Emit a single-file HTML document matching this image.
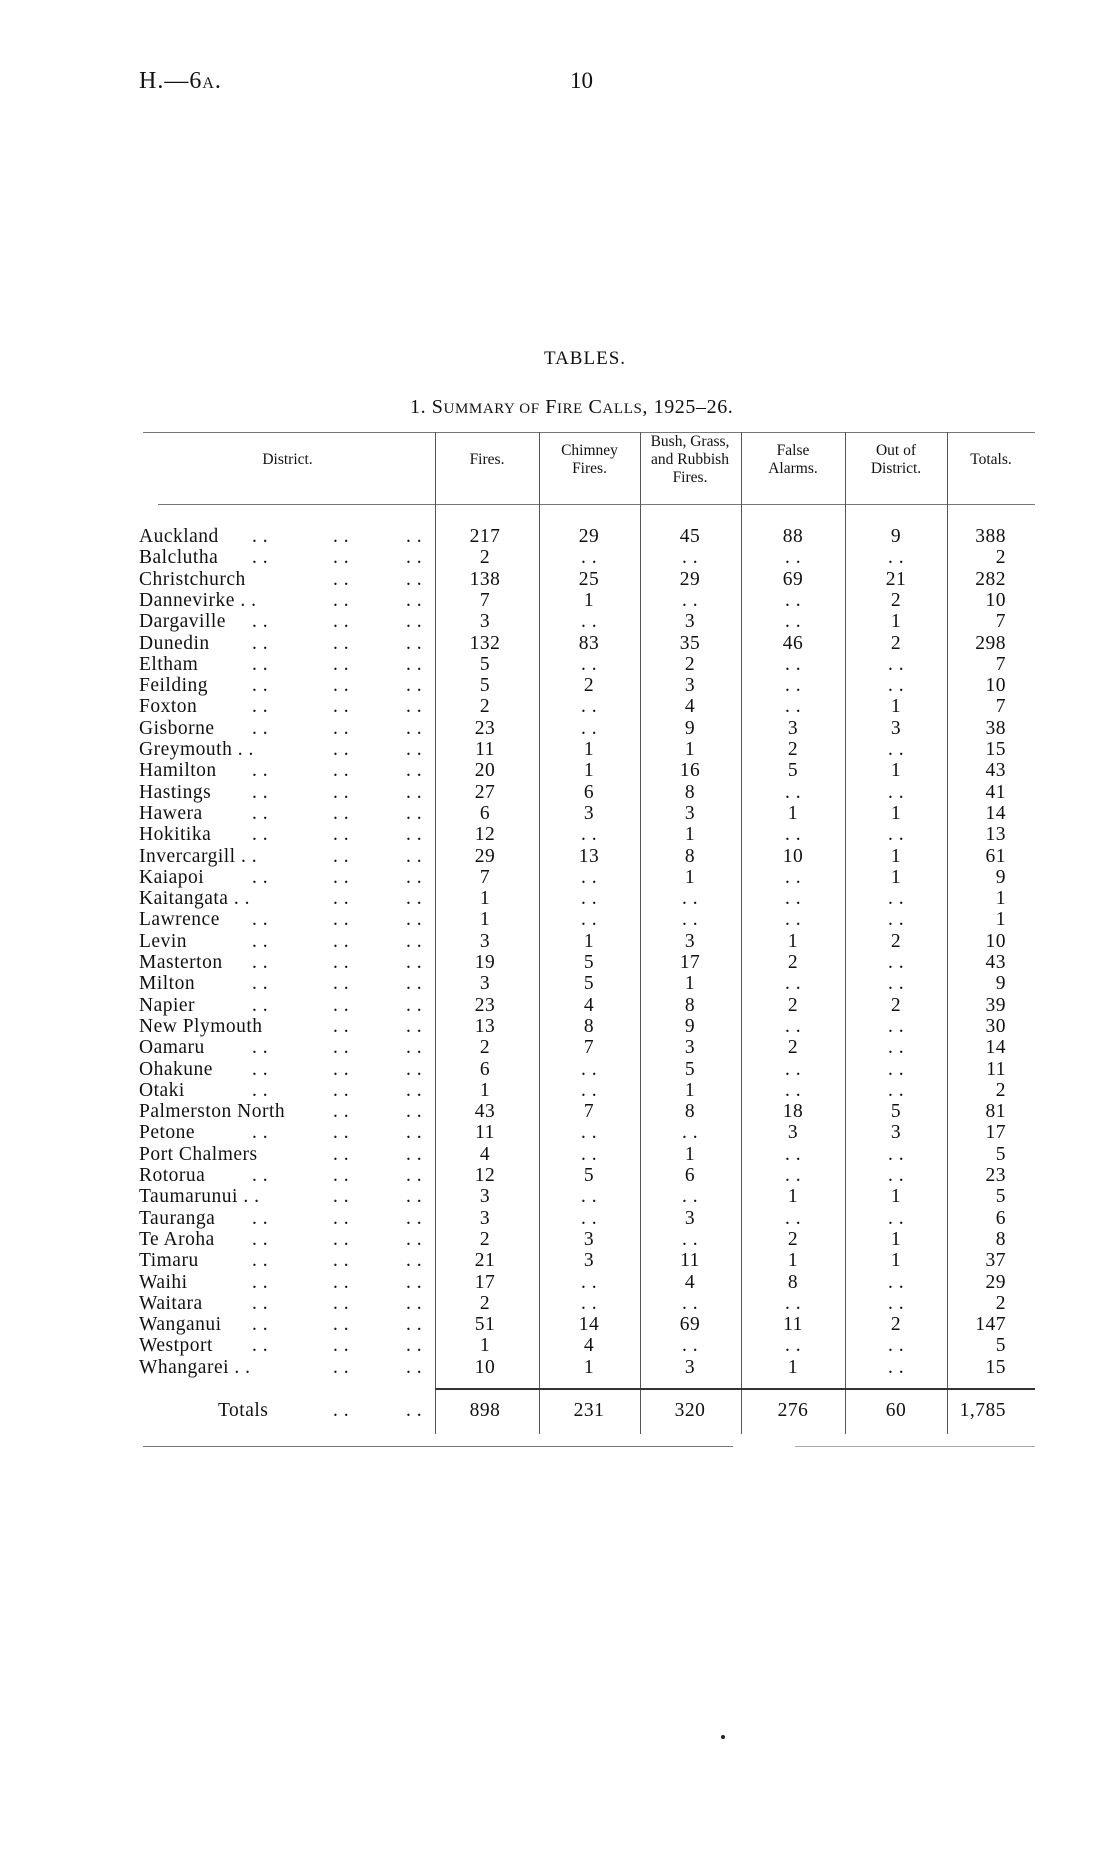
<!DOCTYPE html>
<html><head><meta charset="utf-8"><style>
body{margin:0;background:#fff;}
#p{position:relative;width:1114px;height:1871px;overflow:hidden;font-family:"Liberation Serif",serif;color:#111;}
.a{position:absolute;white-space:nowrap;}
.r{position:absolute;left:0;width:1114px;height:21px;font-size:19.5px;line-height:21px;letter-spacing:0.5px;}
.r span{position:absolute;top:0;}
.n{left:139px}
.d1{left:252px}.d2{left:333px}.d3{left:406px}
.c1,.c2,.c3,.c4,.c5{width:100px;text-align:center;}
.c1{left:435px}.c2{left:539px}.c3{left:640px}.c4{left:743px}.c5{left:846px}
.c6{left:906px;width:100px;text-align:right;}
.v{position:absolute;width:1px;background:#555;}
.h{position:absolute;height:1px;background:#777;}
.hd{position:absolute;font-size:15.5px;line-height:18px;text-align:center;}
</style></head><body><div id="p">
<div class="a" style="left:139px;top:68px;font-size:24px;letter-spacing:1px;">H.—6<span style="font-size:16px">A</span>.</div>
<div class="a" style="left:570px;top:68px;font-size:23px;">10</div>
<div class="a" style="left:544px;top:348px;font-size:19px;letter-spacing:1px;">TABLES.</div>
<div class="a" style="left:410px;top:396px;font-size:20px;letter-spacing:0.6px;">1. S<span style="font-size:15px">UMMARY OF</span> F<span style="font-size:15px">IRE</span> C<span style="font-size:15px">ALLS</span>, 1925–26.</div>

<div class="h" style="left:143px;top:432px;width:892px;"></div>
<div class="h" style="left:158px;top:504px;width:877px;"></div>
<div class="v" style="left:435px;top:432px;height:1002px;"></div>
<div class="v" style="left:539px;top:432px;height:1002px;"></div>
<div class="v" style="left:640px;top:432px;height:1002px;"></div>
<div class="v" style="left:741px;top:432px;height:1002px;"></div>
<div class="v" style="left:845px;top:432px;height:1002px;"></div>
<div class="v" style="left:947px;top:432px;height:1002px;"></div>
<div class="h" style="left:435px;top:1388px;width:600px;height:2px;background:#333"></div>
<div class="h" style="left:143px;top:1446px;width:590px;"></div>
<div class="h" style="left:795px;top:1446px;width:240px;background:#aaa"></div>

<div class="hd" style="left:140px;top:451px;width:295px;">District.</div>
<div class="hd" style="left:435px;top:451px;width:104px;">Fires.</div>
<div class="hd" style="left:539px;top:442px;width:101px;">Chimney<br>Fires.</div>
<div class="hd" style="left:632px;top:433px;width:116px;">Bush, Grass,<br>and Rubbish<br>Fires.</div>
<div class="hd" style="left:741px;top:442px;width:104px;">False<br>Alarms.</div>
<div class="hd" style="left:845px;top:442px;width:102px;">Out of<br>District.</div>
<div class="hd" style="left:947px;top:451px;width:88px;">Totals.</div>

<div class="r" style="top:526px"><span class="n">Auckland</span><span class="d1">. .</span><span class="d2">. .</span><span class="d3">. .</span><span class="c1">217</span><span class="c2">29</span><span class="c3">45</span><span class="c4">88</span><span class="c5">9</span><span class="c6">388</span></div>
<div class="r" style="top:547.3px"><span class="n">Balclutha</span><span class="d1">. .</span><span class="d2">. .</span><span class="d3">. .</span><span class="c1">2</span><span class="c2">. .</span><span class="c3">. .</span><span class="c4">. .</span><span class="c5">. .</span><span class="c6">2</span></div>
<div class="r" style="top:568.6px"><span class="n">Christchurch</span><span class="d2">. .</span><span class="d3">. .</span><span class="c1">138</span><span class="c2">25</span><span class="c3">29</span><span class="c4">69</span><span class="c5">21</span><span class="c6">282</span></div>
<div class="r" style="top:589.9px"><span class="n">Dannevirke . .</span><span class="d2">. .</span><span class="d3">. .</span><span class="c1">7</span><span class="c2">1</span><span class="c3">. .</span><span class="c4">. .</span><span class="c5">2</span><span class="c6">10</span></div>
<div class="r" style="top:611.2px"><span class="n">Dargaville</span><span class="d1">. .</span><span class="d2">. .</span><span class="d3">. .</span><span class="c1">3</span><span class="c2">. .</span><span class="c3">3</span><span class="c4">. .</span><span class="c5">1</span><span class="c6">7</span></div>
<div class="r" style="top:632.5px"><span class="n">Dunedin</span><span class="d1">. .</span><span class="d2">. .</span><span class="d3">. .</span><span class="c1">132</span><span class="c2">83</span><span class="c3">35</span><span class="c4">46</span><span class="c5">2</span><span class="c6">298</span></div>
<div class="r" style="top:653.8px"><span class="n">Eltham</span><span class="d1">. .</span><span class="d2">. .</span><span class="d3">. .</span><span class="c1">5</span><span class="c2">. .</span><span class="c3">2</span><span class="c4">. .</span><span class="c5">. .</span><span class="c6">7</span></div>
<div class="r" style="top:675.1px"><span class="n">Feilding</span><span class="d1">. .</span><span class="d2">. .</span><span class="d3">. .</span><span class="c1">5</span><span class="c2">2</span><span class="c3">3</span><span class="c4">. .</span><span class="c5">. .</span><span class="c6">10</span></div>
<div class="r" style="top:696.4px"><span class="n">Foxton</span><span class="d1">. .</span><span class="d2">. .</span><span class="d3">. .</span><span class="c1">2</span><span class="c2">. .</span><span class="c3">4</span><span class="c4">. .</span><span class="c5">1</span><span class="c6">7</span></div>
<div class="r" style="top:717.7px"><span class="n">Gisborne</span><span class="d1">. .</span><span class="d2">. .</span><span class="d3">. .</span><span class="c1">23</span><span class="c2">. .</span><span class="c3">9</span><span class="c4">3</span><span class="c5">3</span><span class="c6">38</span></div>
<div class="r" style="top:739px"><span class="n">Greymouth . .</span><span class="d2">. .</span><span class="d3">. .</span><span class="c1">11</span><span class="c2">1</span><span class="c3">1</span><span class="c4">2</span><span class="c5">. .</span><span class="c6">15</span></div>
<div class="r" style="top:760.3px"><span class="n">Hamilton</span><span class="d1">. .</span><span class="d2">. .</span><span class="d3">. .</span><span class="c1">20</span><span class="c2">1</span><span class="c3">16</span><span class="c4">5</span><span class="c5">1</span><span class="c6">43</span></div>
<div class="r" style="top:781.6px"><span class="n">Hastings</span><span class="d1">. .</span><span class="d2">. .</span><span class="d3">. .</span><span class="c1">27</span><span class="c2">6</span><span class="c3">8</span><span class="c4">. .</span><span class="c5">. .</span><span class="c6">41</span></div>
<div class="r" style="top:802.9px"><span class="n">Hawera</span><span class="d1">. .</span><span class="d2">. .</span><span class="d3">. .</span><span class="c1">6</span><span class="c2">3</span><span class="c3">3</span><span class="c4">1</span><span class="c5">1</span><span class="c6">14</span></div>
<div class="r" style="top:824.2px"><span class="n">Hokitika</span><span class="d1">. .</span><span class="d2">. .</span><span class="d3">. .</span><span class="c1">12</span><span class="c2">. .</span><span class="c3">1</span><span class="c4">. .</span><span class="c5">. .</span><span class="c6">13</span></div>
<div class="r" style="top:845.5px"><span class="n">Invercargill . .</span><span class="d2">. .</span><span class="d3">. .</span><span class="c1">29</span><span class="c2">13</span><span class="c3">8</span><span class="c4">10</span><span class="c5">1</span><span class="c6">61</span></div>
<div class="r" style="top:866.8px"><span class="n">Kaiapoi</span><span class="d1">. .</span><span class="d2">. .</span><span class="d3">. .</span><span class="c1">7</span><span class="c2">. .</span><span class="c3">1</span><span class="c4">. .</span><span class="c5">1</span><span class="c6">9</span></div>
<div class="r" style="top:888.1px"><span class="n">Kaitangata . .</span><span class="d2">. .</span><span class="d3">. .</span><span class="c1">1</span><span class="c2">. .</span><span class="c3">. .</span><span class="c4">. .</span><span class="c5">. .</span><span class="c6">1</span></div>
<div class="r" style="top:909.4px"><span class="n">Lawrence</span><span class="d1">. .</span><span class="d2">. .</span><span class="d3">. .</span><span class="c1">1</span><span class="c2">. .</span><span class="c3">. .</span><span class="c4">. .</span><span class="c5">. .</span><span class="c6">1</span></div>
<div class="r" style="top:930.7px"><span class="n">Levin</span><span class="d1">. .</span><span class="d2">. .</span><span class="d3">. .</span><span class="c1">3</span><span class="c2">1</span><span class="c3">3</span><span class="c4">1</span><span class="c5">2</span><span class="c6">10</span></div>
<div class="r" style="top:952px"><span class="n">Masterton</span><span class="d1">. .</span><span class="d2">. .</span><span class="d3">. .</span><span class="c1">19</span><span class="c2">5</span><span class="c3">17</span><span class="c4">2</span><span class="c5">. .</span><span class="c6">43</span></div>
<div class="r" style="top:973.3px"><span class="n">Milton</span><span class="d1">. .</span><span class="d2">. .</span><span class="d3">. .</span><span class="c1">3</span><span class="c2">5</span><span class="c3">1</span><span class="c4">. .</span><span class="c5">. .</span><span class="c6">9</span></div>
<div class="r" style="top:994.6px"><span class="n">Napier</span><span class="d1">. .</span><span class="d2">. .</span><span class="d3">. .</span><span class="c1">23</span><span class="c2">4</span><span class="c3">8</span><span class="c4">2</span><span class="c5">2</span><span class="c6">39</span></div>
<div class="r" style="top:1015.9px"><span class="n">New Plymouth</span><span class="d2">. .</span><span class="d3">. .</span><span class="c1">13</span><span class="c2">8</span><span class="c3">9</span><span class="c4">. .</span><span class="c5">. .</span><span class="c6">30</span></div>
<div class="r" style="top:1037.2px"><span class="n">Oamaru</span><span class="d1">. .</span><span class="d2">. .</span><span class="d3">. .</span><span class="c1">2</span><span class="c2">7</span><span class="c3">3</span><span class="c4">2</span><span class="c5">. .</span><span class="c6">14</span></div>
<div class="r" style="top:1058.5px"><span class="n">Ohakune</span><span class="d1">. .</span><span class="d2">. .</span><span class="d3">. .</span><span class="c1">6</span><span class="c2">. .</span><span class="c3">5</span><span class="c4">. .</span><span class="c5">. .</span><span class="c6">11</span></div>
<div class="r" style="top:1079.8px"><span class="n">Otaki</span><span class="d1">. .</span><span class="d2">. .</span><span class="d3">. .</span><span class="c1">1</span><span class="c2">. .</span><span class="c3">1</span><span class="c4">. .</span><span class="c5">. .</span><span class="c6">2</span></div>
<div class="r" style="top:1101.1px"><span class="n">Palmerston North</span><span class="d2">. .</span><span class="d3">. .</span><span class="c1">43</span><span class="c2">7</span><span class="c3">8</span><span class="c4">18</span><span class="c5">5</span><span class="c6">81</span></div>
<div class="r" style="top:1122.4px"><span class="n">Petone</span><span class="d1">. .</span><span class="d2">. .</span><span class="d3">. .</span><span class="c1">11</span><span class="c2">. .</span><span class="c3">. .</span><span class="c4">3</span><span class="c5">3</span><span class="c6">17</span></div>
<div class="r" style="top:1143.7px"><span class="n">Port Chalmers</span><span class="d2">. .</span><span class="d3">. .</span><span class="c1">4</span><span class="c2">. .</span><span class="c3">1</span><span class="c4">. .</span><span class="c5">. .</span><span class="c6">5</span></div>
<div class="r" style="top:1165px"><span class="n">Rotorua</span><span class="d1">. .</span><span class="d2">. .</span><span class="d3">. .</span><span class="c1">12</span><span class="c2">5</span><span class="c3">6</span><span class="c4">. .</span><span class="c5">. .</span><span class="c6">23</span></div>
<div class="r" style="top:1186.3px"><span class="n">Taumarunui . .</span><span class="d2">. .</span><span class="d3">. .</span><span class="c1">3</span><span class="c2">. .</span><span class="c3">. .</span><span class="c4">1</span><span class="c5">1</span><span class="c6">5</span></div>
<div class="r" style="top:1207.6px"><span class="n">Tauranga</span><span class="d1">. .</span><span class="d2">. .</span><span class="d3">. .</span><span class="c1">3</span><span class="c2">. .</span><span class="c3">3</span><span class="c4">. .</span><span class="c5">. .</span><span class="c6">6</span></div>
<div class="r" style="top:1228.9px"><span class="n">Te Aroha</span><span class="d1">. .</span><span class="d2">. .</span><span class="d3">. .</span><span class="c1">2</span><span class="c2">3</span><span class="c3">. .</span><span class="c4">2</span><span class="c5">1</span><span class="c6">8</span></div>
<div class="r" style="top:1250.2px"><span class="n">Timaru</span><span class="d1">. .</span><span class="d2">. .</span><span class="d3">. .</span><span class="c1">21</span><span class="c2">3</span><span class="c3">11</span><span class="c4">1</span><span class="c5">1</span><span class="c6">37</span></div>
<div class="r" style="top:1271.5px"><span class="n">Waihi</span><span class="d1">. .</span><span class="d2">. .</span><span class="d3">. .</span><span class="c1">17</span><span class="c2">. .</span><span class="c3">4</span><span class="c4">8</span><span class="c5">. .</span><span class="c6">29</span></div>
<div class="r" style="top:1292.8px"><span class="n">Waitara</span><span class="d1">. .</span><span class="d2">. .</span><span class="d3">. .</span><span class="c1">2</span><span class="c2">. .</span><span class="c3">. .</span><span class="c4">. .</span><span class="c5">. .</span><span class="c6">2</span></div>
<div class="r" style="top:1314.1px"><span class="n">Wanganui</span><span class="d1">. .</span><span class="d2">. .</span><span class="d3">. .</span><span class="c1">51</span><span class="c2">14</span><span class="c3">69</span><span class="c4">11</span><span class="c5">2</span><span class="c6">147</span></div>
<div class="r" style="top:1335.4px"><span class="n">Westport</span><span class="d1">. .</span><span class="d2">. .</span><span class="d3">. .</span><span class="c1">1</span><span class="c2">4</span><span class="c3">. .</span><span class="c4">. .</span><span class="c5">. .</span><span class="c6">5</span></div>
<div class="r" style="top:1356.7px"><span class="n">Whangarei . .</span><span class="d2">. .</span><span class="d3">. .</span><span class="c1">10</span><span class="c2">1</span><span class="c3">3</span><span class="c4">1</span><span class="c5">. .</span><span class="c6">15</span></div>

<div class="r" style="top:1400px"><span style="left:218px">Totals</span><span class="d2">. .</span><span class="d3">. .</span><span class="c1">898</span><span class="c2">231</span><span class="c3">320</span><span class="c4">276</span><span class="c5">60</span><span class="c6">1,785</span></div>

<div class="a" style="left:721px;top:1735px;width:4px;height:4px;border-radius:2px;background:#222"></div>
</div></body></html>
